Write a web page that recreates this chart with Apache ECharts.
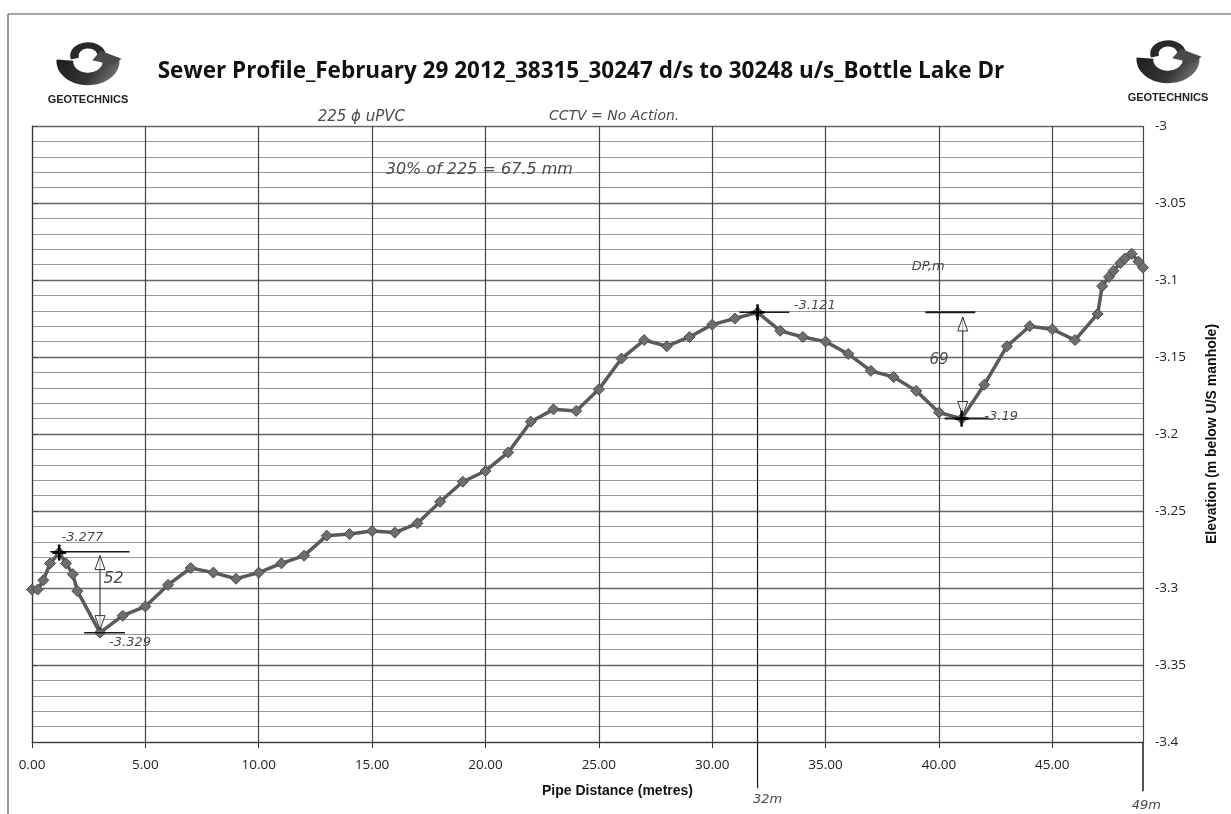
<!DOCTYPE html>
<html><head><meta charset="utf-8">
<script src="https://cdn.jsdelivr.net/npm/echarts@6/dist/echarts.min.js"></script>
<style>html,body{margin:0;padding:0;background:#fff}#c{width:1231px;height:814px}</style>
</head><body><div id="c"></div>
<script>
const titleText = "Sewer Profile_February 29 2012_38315_30247 d/s to 30248 u/s_Bottle Lake Dr";
const xAxisName = "Pipe Distance (metres)";
const yAxisName = "Elevation (m below U/S manhole)";
const logoText = "GEOTECHNICS";

const distance = [0, 0.25, 0.5, 0.8, 1.2, 1.5, 1.8, 2, 3, 4, 5, 6, 7, 8, 9, 10, 11, 12, 13, 14, 15, 16, 17, 18, 19, 20,
  21, 22, 23, 24, 25, 26, 27, 28, 29, 30, 31, 32, 33, 34, 35, 36, 37, 38, 39, 40, 41, 42, 43, 44, 45, 46, 47,
  47.2, 47.5, 47.7, 48, 48.2, 48.5, 48.8, 49];
const elevation = [-3.301, -3.301, -3.295, -3.284, -3.277, -3.284, -3.291, -3.302, -3.329, -3.318, -3.312, -3.298,
  -3.287, -3.290, -3.294, -3.290, -3.284, -3.279, -3.266, -3.265, -3.263, -3.264, -3.258, -3.244, -3.231, -3.224,
  -3.212, -3.192, -3.184, -3.185, -3.171, -3.151, -3.139, -3.143, -3.137, -3.129, -3.125, -3.121, -3.133, -3.137,
  -3.140, -3.148, -3.159, -3.163, -3.172, -3.186, -3.190, -3.168, -3.143, -3.130, -3.132, -3.139, -3.122,
  -3.104, -3.098, -3.094, -3.089, -3.086, -3.083, -3.088, -3.092];

// hand-written annotations (text, position in data space)
const noteTexts = ["225 \u03D5 uPVC", "CCTV = No Action.", "30% of 225 = 67.5 mm", "-3.277", "52", "-3.329",
  "-3.121", "DP,m", "69", "-3.19", "32m", "49m"];
const noteDist = [12.6, 22.8, 15.6, 1.3, 3.6, 3.4, 33.6, 38.8, 40.0, 42.0, 31.8, 48.5];
const noteElev = [-2.9945, -2.9935, -3.0285, -3.2675, -3.294, -3.3355, -3.1165, -3.0915, -3.152, -3.189, -3.4375, -3.4415];

const chart = echarts.init(document.getElementById('c'));
const data = distance.map((d, i) => [d, elevation[i]]);
const noteSize = {"225 \u03D5 uPVC": 15, "CCTV = No Action.": 14, "30% of 225 = 67.5 mm": 16, "52": 16, "69": 15};
const handFont = {fontFamily: 'DejaVu Sans', fontStyle: 'italic', fontWeight: 'lighter', fill: '#4a4a4a'};

function logo(cx, cy) {
  return {
    type: 'group', x: cx, y: cy, children: [
      {type: 'group', scaleX: 1.05, scaleY: 0.78, children: [
        {type: 'sector', shape: {cx: 0, cy: -8, r: 30, r0: 14, startAngle: -0.1, endAngle: Math.PI + 0.1, clockwise: true},
          style: {fill: new echarts.graphic.LinearGradient(0, 0, 1, 1, [{offset: 0, color: '#1e1e1e'}, {offset: 0.55, color: '#353535'}, {offset: 1, color: '#8a8a8a'}])}},
        {type: 'sector', shape: {cx: 0, cy: -16, r: 17, r0: 9, startAngle: Math.PI * 0.9, endAngle: Math.PI * 1.95, clockwise: true},
          style: {fill: '#2a2a2a'}},
        {type: 'polygon', shape: {points: [[12, -22], [32, -12], [24, -4], [4, -10]]}, style: {fill: '#4a4a4a'}}
      ]},
      {type: 'text', x: 0, y: 32, style: {text: logoText, fontFamily: 'Liberation Sans', fontWeight: 'bold', fontSize: 11,
        fill: '#222', textAlign: 'center', textVerticalAlign: 'middle'}}
    ]
  };
}

chart.setOption({
  backgroundColor: '#fff',
  animation: false,
  title: {text: titleText, left: 576, top: 55, textAlign: 'center',
    textStyle: {fontFamily: 'Open Sans', fontWeight: 'bold', fontSize: 22.5, color: '#111'}},
  grid: {left: 32, right: 88, top: 126, bottom: 72},
  xAxis: {
    type: 'value', min: 0, max: 49, interval: 5,
    name: xAxisName, nameLocation: 'middle', nameGap: 42,
    nameTextStyle: {fontFamily: 'Liberation Sans', fontWeight: 'bold', fontSize: 14, color: '#111', padding: [0, 0, 0, 60]},
    axisLine: {show: true, lineStyle: {color: '#333', width: 1.2}},
    axisTick: {show: true, length: 6, lineStyle: {color: '#333'}},
    axisLabel: {showMaxLabel: false, margin: 16, fontFamily: 'Open Sans', fontSize: 13.5, color: '#222',
      formatter: v => v.toFixed(2)},
    splitLine: {show: true, lineStyle: {color: '#444', width: 1.2}}
  },
  yAxis: {
    type: 'value', position: 'right', min: -3.4, max: -3, interval: 0.05,
    name: yAxisName, nameLocation: 'middle', nameGap: 62, nameRotate: 90,
    nameTextStyle: {fontFamily: 'Liberation Sans', fontWeight: 'bold', fontSize: 14, color: '#111'},
    axisLine: {show: true, lineStyle: {color: '#333', width: 1.2}},
    axisTick: {show: true, length: 6, inside: false, lineStyle: {color: '#444'}},
    axisLabel: {margin: 12, fontFamily: 'Open Sans', fontSize: 13.5, color: '#222'},
    splitLine: {show: true, lineStyle: {color: '#666', width: 1.3}},
    minorTick: {show: false, splitNumber: 5},
    minorSplitLine: {show: true, lineStyle: {color: '#9a9a9a', width: 1.2}}
  },
  series: [{
    type: 'line', data: data, symbol: 'diamond', symbolSize: 11,
    lineStyle: {color: '#5a5a5a', width: 3.5},
    itemStyle: {color: '#6e6e6e', borderColor: '#4a4a4a', borderWidth: 1},
    z: 5
  }]
});

function P(d, v) { return chart.convertToPixel({gridIndex: 0}, [d, v]); }
function seg(a, b, w) {
  const p = P(a[0], a[1]), q = P(b[0], b[1]);
  return {type: 'line', shape: {x1: p[0], y1: p[1], x2: q[0], y2: q[1]}, style: {stroke: '#1a1a1a', lineWidth: w || 1.5}, z: 20};
}
function arrowHead(d, v, dir) {
  const p = P(d, v);
  return {type: 'polygon', shape: {points: [[p[0], p[1]], [p[0] - 5, p[1] - dir * 14], [p[0] + 5, p[1] - dir * 14]]},
    style: {fill: 'rgba(255,255,255,0.6)', stroke: '#333', lineWidth: 1}, z: 21};
}
function cross(d, v) {
  const p = P(d, v);
  return [{type: 'line', shape: {x1: p[0] - 7, y1: p[1], x2: p[0] + 7, y2: p[1]}, style: {stroke: '#000', lineWidth: 2.5}, z: 22},
    {type: 'line', shape: {x1: p[0], y1: p[1] - 8, x2: p[0], y2: p[1] + 8}, style: {stroke: '#000', lineWidth: 2.5}, z: 22}];
}

const g = [logo(88, 68), logo(1168, 66)];
g.push({type: 'line', shape: {x1: 8, y1: 14, x2: 8, y2: 814}, style: {stroke: '#777', lineWidth: 1.5}});
g.push({type: 'line', shape: {x1: 8, y1: 14, x2: 1231, y2: 14}, style: {stroke: '#888', lineWidth: 1.5}});
g.push(seg([0.8, -3.2765], [4.3, -3.2765]));
g.push(seg([3.0, -3.279], [3.0, -3.327], 1));
g.push(arrowHead(3.0, -3.279, -1));
g.push(arrowHead(3.0, -3.327, 1));
g.push(seg([2.3, -3.329], [4.1, -3.329]));
g.push(seg([32, -3.116], [32, -3.43], 1.2));
g.push(seg([31.2, -3.121], [33.4, -3.121]));
g.push(seg([39.4, -3.121], [41.6, -3.121], 2));
g.push(seg([41.05, -3.124], [41.05, -3.188], 1));
g.push(arrowHead(41.05, -3.124, -1));
g.push(arrowHead(41.05, -3.188, 1));
g.push(seg([40.25, -3.190], [42.2, -3.190], 2));
g.push(seg([49, -3.4], [49, -3.432], 1.5));
g.push(...cross(1.2, -3.277), ...cross(32, -3.121), ...cross(41, -3.190));
noteTexts.forEach((t, i) => {
  const p = P(noteDist[i], noteElev[i]);
  const isNum = (t === '52' || t === '69');
  g.push({type: 'text', x: p[0], y: p[1], z: 23,
    style: Object.assign({text: t, textVerticalAlign: 'middle', textAlign: isNum ? 'center' : 'left',
      fontSize: noteSize[t] || 13}, handFont)});
});
chart.setOption({graphic: g});
</script></body></html>
